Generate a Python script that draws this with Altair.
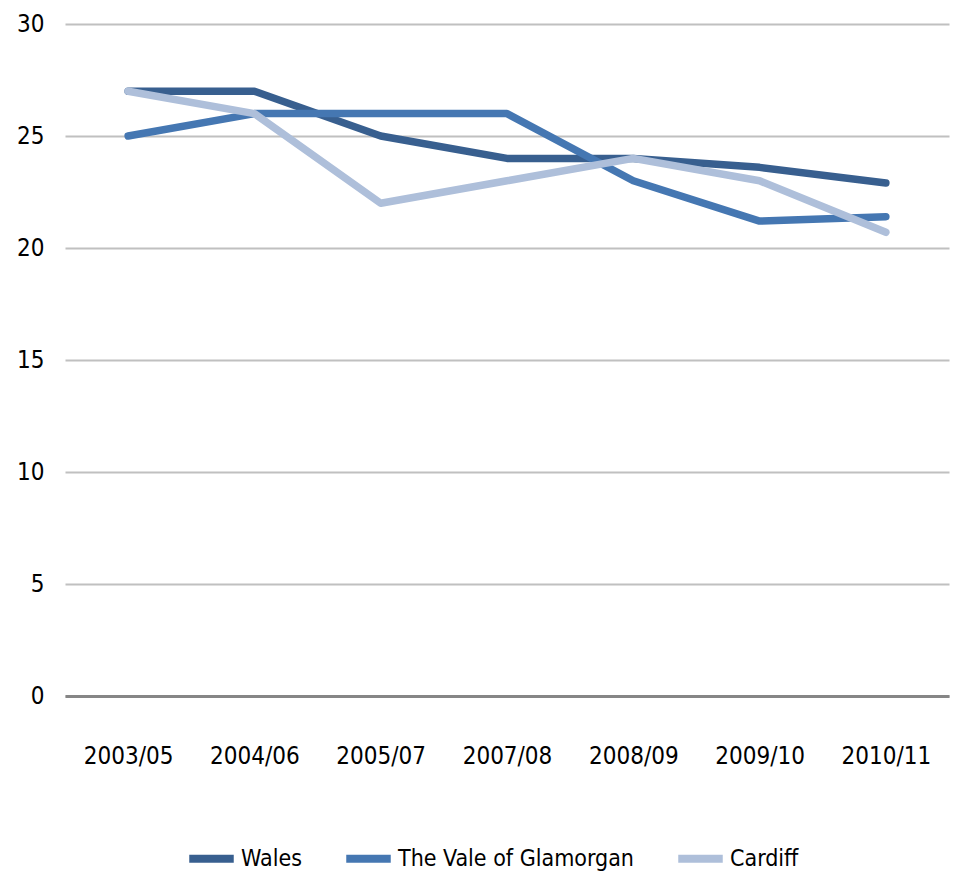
import altair as alt
import pandas as pd

periods = ["2003/05", "2004/06", "2005/07", "2007/08", "2008/09", "2009/10", "2010/11"]
wales = [27, 27, 25, 24, 24, 23.6, 22.9]
vale = [25, 26, 26, 26, 23, 21.2, 21.4]
cardiff = [27, 26, 22, 23, 24, 23, 20.7]
series = ["Wales", "The Vale of Glamorgan", "Cardiff"]
colors = ["#385F8F", "#4577B2", "#AEBFDA"]

rows = []
for name, vals in zip(series, [wales, vale, cardiff]):
    for p, v in zip(periods, vals):
        rows.append({"period": p, "value": v, "series": name})
df = pd.DataFrame(rows)

FONT = "DejaVu Sans Condensed, sans-serif"

chart = alt.Chart(df).mark_line(strokeWidth=7.5, strokeCap="round", strokeJoin="round").encode(
    x=alt.X("period:N", sort=periods, title=None,
            scale=alt.Scale(type="point", padding=0.5),
            axis=alt.Axis(labelAngle=0, ticks=False, domain=True, domainColor="#868686",
                          domainWidth=3, labelPadding=48, labelFontSize=24, labelFont=FONT,
                          labelColor="#000000", grid=False)),
    y=alt.Y("value:Q", title=None,
            scale=alt.Scale(domain=[0, 30], nice=False, zero=True),
            axis=alt.Axis(values=[0, 5, 10, 15, 20, 25, 30], ticks=False, domain=False,
                          gridColor="#C0C0C0", gridWidth=2, labelPadding=21,
                          labelFontSize=24, labelFont=FONT, labelColor="#000000")),
    color=alt.Color("series:N", sort=series,
                    scale=alt.Scale(domain=series, range=colors),
                    legend=alt.Legend(title=None, orient="none", legendX=120, legendY=808,
                                      direction="horizontal", symbolType="stroke",
                                      symbolStrokeWidth=8, symbolSize=1980,
                                      labelFontSize=23, labelFont=FONT, labelColor="#000000",
                                      labelLimit=0, labelOffset=3, columnPadding=28)),
).properties(
    width=884, height=672,
    background="#FFFFFF",
    autosize=alt.AutoSizeParams(type="none"),
    padding={"left": 57, "top": 16, "right": 3, "bottom": 178},
).configure_view(stroke=None)

chart.save("out.html", embed_options={"renderer": "svg", "actions": False})
